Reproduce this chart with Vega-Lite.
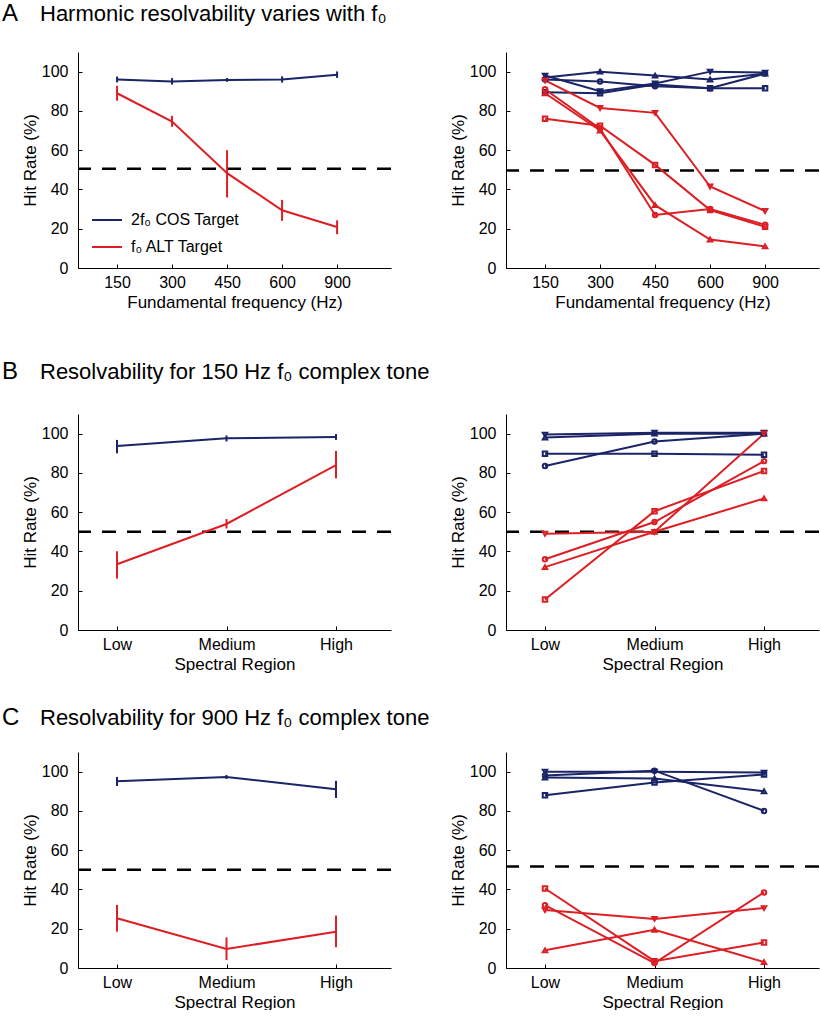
{
  "$schema": "https://vega.github.io/schema/vega-lite/v6.json",
  "padding": {"left": 2, "top": 2, "right": 0, "bottom": 0},
  "config": {
    "font": "Liberation Sans",
    "view": {"stroke": null},
    "axis": {"grid": false, "domainColor": "black", "domainWidth": 1, "tickColor": "black", "tickSize": -4, "labelColor": "black", "titleColor": "black", "labelFontSize": 16, "titleFontSize": 16, "titleFontWeight": "normal", "labelFont": "Liberation Sans", "titleFont": "Liberation Sans"},
    "axisY": {"labelPadding": 14, "titlePadding": 2, "titleFontSize": 17, "values": [0, 20, 40, 60, 80, 100]},
    "axisX": {"labelPadding": 10, "titlePadding": 4, "titleFontSize": 17},
    "title": {"font": "Liberation Sans", "fontWeight": "normal", "color": "black", "anchor": "start", "frame": "group", "baseline": "alphabetic"}
  },
  "datasets": {
    "A_mean": [
      {"k": 1, "f0": "150", "target": "2f₀ COS Target", "rate": 96.0, "lo": 94.5, "hi": 97.5},
      {"k": 2, "f0": "300", "target": "2f₀ COS Target", "rate": 95.0, "lo": 93.4, "hi": 96.7},
      {"k": 3, "f0": "450", "target": "2f₀ COS Target", "rate": 95.8, "lo": 94.8, "hi": 96.8},
      {"k": 4, "f0": "600", "target": "2f₀ COS Target", "rate": 96.0, "lo": 94.4, "hi": 97.6},
      {"k": 5, "f0": "900", "target": "2f₀ COS Target", "rate": 98.4, "lo": 96.8, "hi": 100.1},
      {"k": 1, "f0": "150", "target": "f₀ ALT Target", "rate": 89.0, "lo": 85.2, "hi": 92.8},
      {"k": 2, "f0": "300", "target": "f₀ ALT Target", "rate": 74.6, "lo": 71.9, "hi": 77.5},
      {"k": 3, "f0": "450", "target": "f₀ ALT Target", "rate": 48.3, "lo": 35.9, "hi": 60.0},
      {"k": 4, "f0": "600", "target": "f₀ ALT Target", "rate": 29.4, "lo": 24.0, "hi": 34.7},
      {"k": 5, "f0": "900", "target": "f₀ ALT Target", "rate": 20.9, "lo": 17.2, "hi": 24.3}
    ],
    "A_subj": [
      {"k": 1, "target": "2f₀ COS Target", "subject": "S1", "rate": 89.5},
      {"k": 2, "target": "2f₀ COS Target", "subject": "S1", "rate": 89.0},
      {"k": 3, "target": "2f₀ COS Target", "subject": "S1", "rate": 93.5},
      {"k": 4, "target": "2f₀ COS Target", "subject": "S1", "rate": 91.5},
      {"k": 5, "target": "2f₀ COS Target", "subject": "S1", "rate": 91.5},
      {"k": 1, "target": "2f₀ COS Target", "subject": "S2", "rate": 96.0},
      {"k": 2, "target": "2f₀ COS Target", "subject": "S2", "rate": 95.0},
      {"k": 3, "target": "2f₀ COS Target", "subject": "S2", "rate": 92.5},
      {"k": 4, "target": "2f₀ COS Target", "subject": "S2", "rate": 91.5},
      {"k": 5, "target": "2f₀ COS Target", "subject": "S2", "rate": 99.0},
      {"k": 1, "target": "2f₀ COS Target", "subject": "S3", "rate": 97.0},
      {"k": 2, "target": "2f₀ COS Target", "subject": "S3", "rate": 100.0},
      {"k": 3, "target": "2f₀ COS Target", "subject": "S3", "rate": 98.0},
      {"k": 4, "target": "2f₀ COS Target", "subject": "S3", "rate": 96.0},
      {"k": 5, "target": "2f₀ COS Target", "subject": "S3", "rate": 99.0},
      {"k": 1, "target": "2f₀ COS Target", "subject": "S4", "rate": 98.0},
      {"k": 2, "target": "2f₀ COS Target", "subject": "S4", "rate": 90.0},
      {"k": 3, "target": "2f₀ COS Target", "subject": "S4", "rate": 94.0},
      {"k": 4, "target": "2f₀ COS Target", "subject": "S4", "rate": 100.0},
      {"k": 5, "target": "2f₀ COS Target", "subject": "S4", "rate": 99.5},
      {"k": 1, "target": "f₀ ALT Target", "subject": "S4", "rate": 95.5},
      {"k": 2, "target": "f₀ ALT Target", "subject": "S4", "rate": 81.5},
      {"k": 3, "target": "f₀ ALT Target", "subject": "S4", "rate": 79.0},
      {"k": 4, "target": "f₀ ALT Target", "subject": "S4", "rate": 41.5},
      {"k": 5, "target": "f₀ ALT Target", "subject": "S4", "rate": 29.0},
      {"k": 1, "target": "f₀ ALT Target", "subject": "S1", "rate": 76.0},
      {"k": 2, "target": "f₀ ALT Target", "subject": "S1", "rate": 72.5},
      {"k": 3, "target": "f₀ ALT Target", "subject": "S1", "rate": 52.5},
      {"k": 4, "target": "f₀ ALT Target", "subject": "S1", "rate": 29.5},
      {"k": 5, "target": "f₀ ALT Target", "subject": "S1", "rate": 21.0},
      {"k": 1, "target": "f₀ ALT Target", "subject": "S2", "rate": 91.0},
      {"k": 2, "target": "f₀ ALT Target", "subject": "S2", "rate": 71.0},
      {"k": 3, "target": "f₀ ALT Target", "subject": "S2", "rate": 27.0},
      {"k": 4, "target": "f₀ ALT Target", "subject": "S2", "rate": 30.0},
      {"k": 5, "target": "f₀ ALT Target", "subject": "S2", "rate": 22.0},
      {"k": 1, "target": "f₀ ALT Target", "subject": "S3", "rate": 89.0},
      {"k": 2, "target": "f₀ ALT Target", "subject": "S3", "rate": 70.0},
      {"k": 3, "target": "f₀ ALT Target", "subject": "S3", "rate": 32.0},
      {"k": 4, "target": "f₀ ALT Target", "subject": "S3", "rate": 14.5},
      {"k": 5, "target": "f₀ ALT Target", "subject": "S3", "rate": 11.0}
    ],
    "B_mean": [
      {"k": 1, "region": "Low", "target": "2f₀ COS Target", "rate": 93.7, "lo": 90.0, "hi": 96.8},
      {"k": 2, "region": "Medium", "target": "2f₀ COS Target", "rate": 97.6, "lo": 96.0, "hi": 99.1},
      {"k": 3, "region": "High", "target": "2f₀ COS Target", "rate": 98.3, "lo": 96.8, "hi": 99.8},
      {"k": 1, "region": "Low", "target": "f₀ ALT Target", "rate": 33.5, "lo": 26.2, "hi": 40.1},
      {"k": 2, "region": "Medium", "target": "f₀ ALT Target", "rate": 54.0, "lo": 51.7, "hi": 56.5},
      {"k": 3, "region": "High", "target": "f₀ ALT Target", "rate": 84.0, "lo": 77.2, "hi": 91.2}
    ],
    "B_subj": [
      {"k": 1, "target": "2f₀ COS Target", "subject": "S4", "rate": 99.5},
      {"k": 2, "target": "2f₀ COS Target", "subject": "S4", "rate": 100.5},
      {"k": 3, "target": "2f₀ COS Target", "subject": "S4", "rate": 100.5},
      {"k": 1, "target": "2f₀ COS Target", "subject": "S3", "rate": 98.0},
      {"k": 2, "target": "2f₀ COS Target", "subject": "S3", "rate": 100.0},
      {"k": 3, "target": "2f₀ COS Target", "subject": "S3", "rate": 100.0},
      {"k": 1, "target": "2f₀ COS Target", "subject": "S2", "rate": 83.5},
      {"k": 2, "target": "2f₀ COS Target", "subject": "S2", "rate": 96.0},
      {"k": 3, "target": "2f₀ COS Target", "subject": "S2", "rate": 100.0},
      {"k": 1, "target": "2f₀ COS Target", "subject": "S1", "rate": 89.8},
      {"k": 2, "target": "2f₀ COS Target", "subject": "S1", "rate": 89.8},
      {"k": 3, "target": "2f₀ COS Target", "subject": "S1", "rate": 89.2},
      {"k": 1, "target": "f₀ ALT Target", "subject": "S4", "rate": 49.0},
      {"k": 2, "target": "f₀ ALT Target", "subject": "S4", "rate": 50.0},
      {"k": 3, "target": "f₀ ALT Target", "subject": "S4", "rate": 100.0},
      {"k": 1, "target": "f₀ ALT Target", "subject": "S2", "rate": 36.0},
      {"k": 2, "target": "f₀ ALT Target", "subject": "S2", "rate": 55.0},
      {"k": 3, "target": "f₀ ALT Target", "subject": "S2", "rate": 86.0},
      {"k": 1, "target": "f₀ ALT Target", "subject": "S3", "rate": 32.0},
      {"k": 2, "target": "f₀ ALT Target", "subject": "S3", "rate": 50.0},
      {"k": 3, "target": "f₀ ALT Target", "subject": "S3", "rate": 67.0},
      {"k": 1, "target": "f₀ ALT Target", "subject": "S1", "rate": 15.5},
      {"k": 2, "target": "f₀ ALT Target", "subject": "S1", "rate": 60.5},
      {"k": 3, "target": "f₀ ALT Target", "subject": "S1", "rate": 81.0}
    ],
    "C_mean": [
      {"k": 1, "region": "Low", "target": "2f₀ COS Target", "rate": 95.1, "lo": 92.7, "hi": 97.3},
      {"k": 2, "region": "Medium", "target": "2f₀ COS Target", "rate": 97.3, "lo": 96.3, "hi": 98.3},
      {"k": 3, "region": "High", "target": "2f₀ COS Target", "rate": 91.0, "lo": 86.6, "hi": 95.3},
      {"k": 1, "region": "Low", "target": "f₀ ALT Target", "rate": 25.3, "lo": 18.5, "hi": 32.1},
      {"k": 2, "region": "Medium", "target": "f₀ ALT Target", "rate": 9.7, "lo": 4.1, "hi": 15.6},
      {"k": 3, "region": "High", "target": "f₀ ALT Target", "rate": 18.5, "lo": 10.6, "hi": 26.7}
    ],
    "C_subj": [
      {"k": 1, "target": "2f₀ COS Target", "subject": "S2", "rate": 98.0},
      {"k": 2, "target": "2f₀ COS Target", "subject": "S2", "rate": 100.5},
      {"k": 3, "target": "2f₀ COS Target", "subject": "S2", "rate": 80.0},
      {"k": 1, "target": "2f₀ COS Target", "subject": "S3", "rate": 97.0},
      {"k": 2, "target": "2f₀ COS Target", "subject": "S3", "rate": 96.5},
      {"k": 3, "target": "2f₀ COS Target", "subject": "S3", "rate": 90.0},
      {"k": 1, "target": "2f₀ COS Target", "subject": "S1", "rate": 88.0},
      {"k": 2, "target": "2f₀ COS Target", "subject": "S1", "rate": 94.5},
      {"k": 3, "target": "2f₀ COS Target", "subject": "S1", "rate": 98.5},
      {"k": 1, "target": "2f₀ COS Target", "subject": "S4", "rate": 100.0},
      {"k": 2, "target": "2f₀ COS Target", "subject": "S4", "rate": 100.0},
      {"k": 3, "target": "2f₀ COS Target", "subject": "S4", "rate": 99.5},
      {"k": 1, "target": "f₀ ALT Target", "subject": "S1", "rate": 40.5},
      {"k": 2, "target": "f₀ ALT Target", "subject": "S1", "rate": 3.5},
      {"k": 3, "target": "f₀ ALT Target", "subject": "S1", "rate": 13.0},
      {"k": 1, "target": "f₀ ALT Target", "subject": "S2", "rate": 32.0},
      {"k": 2, "target": "f₀ ALT Target", "subject": "S2", "rate": 2.5},
      {"k": 3, "target": "f₀ ALT Target", "subject": "S2", "rate": 38.5},
      {"k": 1, "target": "f₀ ALT Target", "subject": "S4", "rate": 29.5},
      {"k": 2, "target": "f₀ ALT Target", "subject": "S4", "rate": 25.0},
      {"k": 3, "target": "f₀ ALT Target", "subject": "S4", "rate": 30.5},
      {"k": 1, "target": "f₀ ALT Target", "subject": "S3", "rate": 9.0},
      {"k": 2, "target": "f₀ ALT Target", "subject": "S3", "rate": 19.5},
      {"k": 3, "target": "f₀ ALT Target", "subject": "S3", "rate": 3.0}
    ]
  },
  "spacing": 50,
  "resolve": {"scale": {"x": "independent", "y": "independent", "color": "independent", "shape": "independent"}, "legend": {"color": "independent", "shape": "independent"}},
  "vconcat": [
    {
      "hconcat": [
        {
          "width": 313, "height": 216,
          "data": {"name": "A_mean"},
          "title": {"text": "A", "fontSize": 24, "dx": -76, "offset": 26},
          "layer": [
            {"data": {"values": [{"chance": 50.5}]}, "mark": {"type": "rule", "color": "black", "strokeWidth": 2.5, "strokeDash": [14, 11]}, "encoding": {"y": {"field": "chance", "type": "quantitative", "scale": {"domain": [0, 110], "nice": false}, "axis": {"title": "Hit Rate (%)"}}}},
            {"mark": {"type": "rule", "strokeWidth": 2}, "encoding": {
              "x": {"field": "k", "type": "quantitative", "scale": {"domain": [0.29, 5.98], "nice": false, "zero": false}, "axis": {"values": [1, 2, 3, 4, 5], "labelExpr": "['','150','300','450','600','900'][datum.value]", "title": "Fundamental frequency (Hz)"}},
              "y": {"field": "lo", "type": "quantitative"}, "y2": {"field": "hi"},
              "color": {"field": "target", "type": "nominal", "scale": {"domain": ["2f₀ COS Target", "f₀ ALT Target"], "range": ["#1a2466", "#dc1f24"]}, "legend": {"orient": "bottom-left", "title": null, "symbolType": "stroke", "symbolSize": 900, "symbolStrokeWidth": 2, "labelFontSize": 16, "labelColor": "black", "labelFont": "Liberation Sans", "clipHeight": 16, "rowPadding": 11, "offset": 13, "labelOffset": 8, "padding": 0}}
            }},
            {"mark": {"type": "line", "strokeWidth": 2}, "encoding": {
              "x": {"field": "k", "type": "quantitative"},
              "y": {"field": "rate", "type": "quantitative"},
              "color": {"field": "target", "type": "nominal"}
            }}
          ]
        },
        {
          "width": 313, "height": 216,
          "data": {"name": "A_subj"},
          "title": {"text": "Harmonic resolvability varies with f₀", "fontSize": 22, "dx": -466, "offset": 26},
          "layer": [
            {"data": {"values": [{"chance": 49.7}]}, "mark": {"type": "rule", "color": "black", "strokeWidth": 2.5, "strokeDash": [14, 11]}, "encoding": {"y": {"field": "chance", "type": "quantitative", "scale": {"domain": [0, 110], "nice": false}, "axis": {"title": "Hit Rate (%)"}}}},
            {"mark": {"type": "line", "strokeWidth": 2}, "encoding": {
              "x": {"field": "k", "type": "quantitative", "scale": {"domain": [0.29, 5.98], "nice": false, "zero": false}, "axis": {"values": [1, 2, 3, 4, 5], "labelExpr": "['','150','300','450','600','900'][datum.value]", "title": "Fundamental frequency (Hz)"}},
              "y": {"field": "rate", "type": "quantitative"},
              "color": {"field": "target", "type": "nominal", "scale": {"domain": ["2f₀ COS Target", "f₀ ALT Target"], "range": ["#1a2466", "#dc1f24"]}, "legend": null},
              "detail": {"field": "subject", "type": "nominal"}
            }},
            {"mark": {"type": "point", "filled": false, "strokeWidth": 2, "size": 20, "opacity": 1}, "encoding": {
              "x": {"field": "k", "type": "quantitative"},
              "y": {"field": "rate", "type": "quantitative"},
              "color": {"field": "target", "type": "nominal", "legend": null},
              "shape": {"field": "subject", "type": "nominal", "scale": {"domain": ["S1", "S2", "S3", "S4"], "range": ["square", "circle", "triangle-up", "triangle-down"]}, "legend": null}
            }}
          ]
        }
      ],
      "spacing": 115,
      "bounds": "flush",
      "resolve": {"scale": {"x": "independent", "y": "independent", "color": "independent", "shape": "independent"}, "legend": {"color": "independent", "shape": "independent"}}
    },
    {
      "spacing": 34,
      "resolve": {"scale": {"x": "independent", "y": "independent", "color": "independent", "shape": "independent"}, "legend": {"color": "independent", "shape": "independent"}},
      "vconcat": [
        {
          "hconcat": [
            {
              "width": 313, "height": 216,
              "data": {"name": "B_mean"},
              "title": {"text": "B", "fontSize": 24, "dx": -76, "offset": 30},
              "layer": [
                {"data": {"values": [{"chance": 50}]}, "mark": {"type": "rule", "color": "black", "strokeWidth": 2.5, "strokeDash": [14, 11]}, "encoding": {"y": {"field": "chance", "type": "quantitative", "scale": {"domain": [0, 110], "nice": false}, "axis": {"title": "Hit Rate (%)"}}}},
                {"mark": {"type": "rule", "strokeWidth": 2}, "encoding": {
                  "x": {"field": "k", "type": "quantitative", "scale": {"domain": [0.644, 3.502], "nice": false, "zero": false}, "axis": {"values": [1, 2, 3], "labelExpr": "['','Low','Medium','High'][datum.value]", "title": "Spectral Region"}},
                  "y": {"field": "lo", "type": "quantitative"}, "y2": {"field": "hi"},
                  "color": {"field": "target", "type": "nominal", "scale": {"domain": ["2f₀ COS Target", "f₀ ALT Target"], "range": ["#1a2466", "#dc1f24"]}, "legend": null}
                }},
                {"mark": {"type": "line", "strokeWidth": 2}, "encoding": {
                  "x": {"field": "k", "type": "quantitative"},
                  "y": {"field": "rate", "type": "quantitative"},
                  "color": {"field": "target", "type": "nominal"}
                }}
              ]
            },
            {
              "width": 313, "height": 216,
              "data": {"name": "B_subj"},
              "title": {"text": "Resolvability for 150 Hz f₀ complex tone", "fontSize": 22, "dx": -466, "offset": 30},
              "layer": [
                {"data": {"values": [{"chance": 50}]}, "mark": {"type": "rule", "color": "black", "strokeWidth": 2.5, "strokeDash": [14, 11]}, "encoding": {"y": {"field": "chance", "type": "quantitative", "scale": {"domain": [0, 110], "nice": false}, "axis": {"title": "Hit Rate (%)"}}}},
                {"mark": {"type": "line", "strokeWidth": 2}, "encoding": {
                  "x": {"field": "k", "type": "quantitative", "scale": {"domain": [0.644, 3.502], "nice": false, "zero": false}, "axis": {"values": [1, 2, 3], "labelExpr": "['','Low','Medium','High'][datum.value]", "title": "Spectral Region"}},
                  "y": {"field": "rate", "type": "quantitative"},
                  "color": {"field": "target", "type": "nominal", "scale": {"domain": ["2f₀ COS Target", "f₀ ALT Target"], "range": ["#1a2466", "#dc1f24"]}, "legend": null},
                  "detail": {"field": "subject", "type": "nominal"}
                }},
                {"mark": {"type": "point", "filled": false, "strokeWidth": 2, "size": 20, "opacity": 1}, "encoding": {
                  "x": {"field": "k", "type": "quantitative"},
                  "y": {"field": "rate", "type": "quantitative"},
                  "color": {"field": "target", "type": "nominal", "legend": null},
                  "shape": {"field": "subject", "type": "nominal", "scale": {"domain": ["S1", "S2", "S3", "S4"], "range": ["square", "circle", "triangle-up", "triangle-down"]}, "legend": null}
                }}
              ]
            }
          ],
          "spacing": 115,
          "bounds": "flush",
          "resolve": {"scale": {"x": "independent", "y": "independent", "color": "independent", "shape": "independent"}, "legend": {"color": "independent", "shape": "independent"}}
        },
        {
          "hconcat": [
            {
              "width": 313, "height": 216,
              "data": {"name": "C_mean"},
              "title": {"text": "C", "fontSize": 24, "dx": -76, "offset": 22},
              "layer": [
                {"data": {"values": [{"chance": 50}]}, "mark": {"type": "rule", "color": "black", "strokeWidth": 2.5, "strokeDash": [14, 11]}, "encoding": {"y": {"field": "chance", "type": "quantitative", "scale": {"domain": [0, 110], "nice": false}, "axis": {"title": "Hit Rate (%)"}}}},
                {"mark": {"type": "rule", "strokeWidth": 2}, "encoding": {
                  "x": {"field": "k", "type": "quantitative", "scale": {"domain": [0.644, 3.502], "nice": false, "zero": false}, "axis": {"values": [1, 2, 3], "labelExpr": "['','Low','Medium','High'][datum.value]", "title": "Spectral Region"}},
                  "y": {"field": "lo", "type": "quantitative"}, "y2": {"field": "hi"},
                  "color": {"field": "target", "type": "nominal", "scale": {"domain": ["2f₀ COS Target", "f₀ ALT Target"], "range": ["#1a2466", "#dc1f24"]}, "legend": null}
                }},
                {"mark": {"type": "line", "strokeWidth": 2}, "encoding": {
                  "x": {"field": "k", "type": "quantitative"},
                  "y": {"field": "rate", "type": "quantitative"},
                  "color": {"field": "target", "type": "nominal"}
                }}
              ]
            },
            {
              "width": 313, "height": 216,
              "data": {"name": "C_subj"},
              "title": {"text": "Resolvability for 900 Hz f₀ complex tone", "fontSize": 22, "dx": -466, "offset": 22},
              "layer": [
                {"data": {"values": [{"chance": 51.7}]}, "mark": {"type": "rule", "color": "black", "strokeWidth": 2.5, "strokeDash": [14, 11]}, "encoding": {"y": {"field": "chance", "type": "quantitative", "scale": {"domain": [0, 110], "nice": false}, "axis": {"title": "Hit Rate (%)"}}}},
                {"mark": {"type": "line", "strokeWidth": 2}, "encoding": {
                  "x": {"field": "k", "type": "quantitative", "scale": {"domain": [0.644, 3.502], "nice": false, "zero": false}, "axis": {"values": [1, 2, 3], "labelExpr": "['','Low','Medium','High'][datum.value]", "title": "Spectral Region"}},
                  "y": {"field": "rate", "type": "quantitative"},
                  "color": {"field": "target", "type": "nominal", "scale": {"domain": ["2f₀ COS Target", "f₀ ALT Target"], "range": ["#1a2466", "#dc1f24"]}, "legend": null},
                  "detail": {"field": "subject", "type": "nominal"}
                }},
                {"mark": {"type": "point", "filled": false, "strokeWidth": 2, "size": 20, "opacity": 1}, "encoding": {
                  "x": {"field": "k", "type": "quantitative"},
                  "y": {"field": "rate", "type": "quantitative"},
                  "color": {"field": "target", "type": "nominal", "legend": null},
                  "shape": {"field": "subject", "type": "nominal", "scale": {"domain": ["S1", "S2", "S3", "S4"], "range": ["square", "circle", "triangle-up", "triangle-down"]}, "legend": null}
                }}
              ]
            }
          ],
          "spacing": 115,
          "bounds": "flush",
          "resolve": {"scale": {"x": "independent", "y": "independent", "color": "independent", "shape": "independent"}, "legend": {"color": "independent", "shape": "independent"}}
        }
      ]
    }
  ]
}
